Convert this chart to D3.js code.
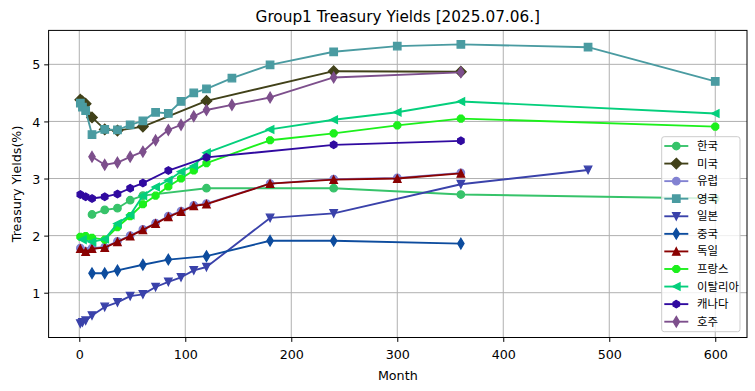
<!DOCTYPE html>
<html><head><meta charset="utf-8">
<script src="https://cdn.jsdelivr.net/npm/d3@7"></script>
<style>
body{margin:0;background:#fff}
svg{display:block}
text{font-family:"DejaVu Sans","Noto Sans CJK KR",sans-serif;fill:#000}
</style>
</head><body>
<svg id="chart" width="755" height="391"></svg>
<script>
// ---------- data ----------
const chartTitle = "Group1 Treasury Yields [2025.07.06.]";
const xLabel = "Month";
const yLabel = "Treasury Yields(%)";
const countries = ["한국","미국","유럽","영국","일본","중국","독일","프랑스","이탈리아","캐나다","호주"];

const monthsKR = [12,24,36,48,60,120,240,360,600];
const yieldsKR = [2.37,2.45,2.48,2.62,2.70,2.83,2.83,2.72,2.65];

const monthsUS = [1,3,6,12,24,36,60,120,240,360];
const yieldsUS = [4.38,4.35,4.31,4.07,3.86,3.84,3.91,4.36,4.88,4.87];

const monthsEU = [1,6,12,24,36,48,60,72,84,96,108,120,180,240,300,360];
const yieldsEU = [1.78,1.73,1.78,1.80,1.90,2.00,2.11,2.22,2.34,2.43,2.53,2.56,2.91,2.99,3.01,3.10];

const monthsUK = [1,3,6,12,24,36,48,60,72,84,96,108,120,144,180,240,300,360,480,600];
const yieldsUK = [4.32,4.25,4.19,3.77,3.86,3.85,3.94,4.01,4.16,4.14,4.35,4.50,4.57,4.76,4.99,5.22,5.32,5.35,5.30,4.70];

const monthsJP = [1,3,6,12,24,36,48,60,72,84,96,108,120,180,240,360,480];
const yieldsJP = [0.46,0.48,0.51,0.60,0.75,0.83,0.94,0.97,1.10,1.19,1.27,1.39,1.45,2.31,2.39,2.90,3.15];

const monthsCN = [12,24,36,60,84,120,180,240,360];
const yieldsCN = [1.34,1.34,1.39,1.49,1.58,1.64,1.91,1.91,1.86];

const monthsDE = [1,6,12,24,36,48,60,72,84,96,108,120,180,240,300,360];
const yieldsDE = [1.77,1.72,1.77,1.79,1.89,1.99,2.10,2.21,2.33,2.42,2.52,2.55,2.91,2.98,3.00,3.09];

const monthsFR = [1,6,12,24,36,48,60,72,84,96,108,120,180,240,300,360,600];
const yieldsFR = [1.98,1.99,1.96,1.93,2.15,2.34,2.55,2.70,2.86,3.00,3.14,3.27,3.67,3.79,3.93,4.05,3.91];

const monthsIT = [3,12,24,36,48,60,72,84,96,108,120,180,240,300,360,600];
const yieldsIT = [1.93,1.89,1.94,2.21,2.36,2.70,2.85,2.97,3.12,3.22,3.45,3.86,4.03,4.16,4.35,4.14];

const monthsCA = [1,6,12,24,36,48,60,84,120,240,360];
const yieldsCA = [2.72,2.68,2.65,2.68,2.73,2.83,2.92,3.14,3.37,3.59,3.66];

const monthsAU = [12,24,36,48,60,72,84,96,108,120,144,180,240,360];
const yieldsAU = [3.38,3.24,3.28,3.38,3.47,3.67,3.85,3.94,4.09,4.20,4.29,4.42,4.77,4.86];

const xTicks = [0,100,200,300,400,500,600];
const yTicks = [1,2,3,4,5];

// ---------- styles ----------
const colors = ["#37c36a","#414119","#8282d2","#4a9ba1","#3a42aa","#0d4c9e","#8a0202","#1cf01c","#04cf7c","#300aa0","#7d4f8c"];
const markers = ["o","D","o","s","v","d","^","8","<","h","d"];
const monthsList = [monthsKR,monthsUS,monthsEU,monthsUK,monthsJP,monthsCN,monthsDE,monthsFR,monthsIT,monthsCA,monthsAU];
const yieldsList = [yieldsKR,yieldsUS,yieldsEU,yieldsUK,yieldsJP,yieldsCN,yieldsDE,yieldsFR,yieldsIT,yieldsCA,yieldsAU];

const series = countries.map((name,i)=>({
  name, color: colors[i], marker: markers[i],
  points: monthsList[i].map((m,j)=>({m, v: yieldsList[i][j]}))
}));

// ---------- layout ----------
const L = 48.6, R = 747, T = 30.4, B = 337.5;
const MS = 7.5;       // marker size px
const LW = 1.875;     // line width px
const MEW = 1.25;     // marker edge width

const allM = monthsList.flat(), allV = yieldsList.flat();
const [mMin,mMax] = d3.extent(allM), [vMin,vMax] = d3.extent(allV);
const mPad = (mMax-mMin)*0.05, vPad = (vMax-vMin)*0.05;

const x = d3.scaleLinear().domain([mMin-mPad, mMax+mPad]).range([L,R]);
const y = d3.scaleLinear().domain([vMin-vPad, vMax+vPad]).range([B,T]);

function markerPath(type, s){
  const h = s/2, d = s*Math.SQRT1_2;
  const poly = (n, r, a0) => {
    let p = "";
    for(let k=0;k<n;k++){
      const a = (a0 + k*360/n)*Math.PI/180;
      p += (k?"L":"M") + (r*Math.cos(a)).toFixed(3) + "," + (-r*Math.sin(a)).toFixed(3);
    }
    return p+"Z";
  };
  switch(type){
    case "o": return `M${h},0A${h},${h} 0 1,1 ${-h},0A${h},${h} 0 1,1 ${h},0Z`;
    case "s": return `M${-h},${-h}H${h}V${h}H${-h}Z`;
    case "D": return `M0,${-d}L${d},0L0,${d}L${-d},0Z`;
    case "d": return `M0,${-d}L${0.6*d},0L0,${d}L${-0.6*d},0Z`;
    case "^": return `M0,${-h}L${h},${h}L${-h},${h}Z`;
    case "v": return `M0,${h}L${h},${-h}L${-h},${-h}Z`;
    case "<": return `M${-h},0L${h},${-h}L${h},${h}Z`;
    case "h": return poly(6, h, 90);
    case "8": return poly(8, h, 22.5);
  }
}

const svg = d3.select("#chart");
svg.append("rect").attr("width",755).attr("height",391).attr("fill","#fff");

// grid
const grid = svg.append("g");
grid.selectAll("line.gx").data(xTicks).join("line")
  .attr("x1",d=>x(d)).attr("x2",d=>x(d)).attr("y1",T).attr("y2",B)
  .attr("stroke","#b0b0b0").attr("stroke-width",1);
grid.selectAll("line.gy").data(yTicks).join("line")
  .attr("x1",L).attr("x2",R).attr("y1",d=>y(d)).attr("y2",d=>y(d))
  .attr("stroke","#b0b0b0").attr("stroke-width",1);

// series
const line = d3.line().x(d=>x(d.m)).y(d=>y(d.v));
const plot = svg.append("g");
series.forEach(s=>{
  const g = plot.append("g");
  g.append("path").attr("d", line(s.points)).attr("fill","none")
    .attr("stroke", s.color).attr("stroke-width", LW).attr("stroke-linejoin","round");
  g.selectAll("path.mk").data(s.points).join("path").attr("class","mk")
    .attr("d", markerPath(s.marker, MS))
    .attr("transform", d=>`translate(${x(d.m)},${y(d.v)})`)
    .attr("fill", s.color).attr("stroke", s.color).attr("stroke-width", MEW);
});

// axes
const xAxis = d3.axisBottom(x).tickValues(xTicks).tickSize(4.4).tickPadding(4).tickFormat(d3.format("d"));
const yAxis = d3.axisLeft(y).tickValues(yTicks).tickSize(4.4).tickPadding(4).tickFormat(d3.format("d"));
const gx = svg.append("g").attr("transform",`translate(0,${B})`).call(xAxis);
const gy = svg.append("g").attr("transform",`translate(${L},0)`).call(yAxis);
[gx,gy].forEach(g=>{
  g.select(".domain").remove();
  g.selectAll(".tick line").attr("stroke","#000").attr("stroke-width",1);
  g.selectAll(".tick text").attr("font-size","12.7px").attr("fill","#000")
    .style("font-family","'DejaVu Sans'");
});
gx.selectAll(".tick text").attr("dy",null).attr("y",null)
  .attr("transform",null).attr("dominant-baseline","auto").attr("y",21.8);
gy.selectAll(".tick text").attr("dy","0.36em");

// frame
svg.append("rect").attr("x",L).attr("y",T).attr("width",R-L).attr("height",B-T)
  .attr("fill","none").attr("stroke","#000").attr("stroke-width",1);

// labels
svg.append("text").attr("x",(L+R)/2).attr("y",22.3).attr("text-anchor","middle")
  .attr("font-size","15.3px").text(chartTitle);
svg.append("text").attr("x",(L+R)/2).attr("y",379.5).attr("text-anchor","middle")
  .attr("font-size","12.7px").text(xLabel);
svg.append("text").attr("transform",`translate(20.8,${(T+B)/2}) rotate(-90)`)
  .attr("text-anchor","middle").attr("font-size","12.7px").text(yLabel);

// legend
const lg = svg.append("g");
lg.append("rect").attr("x",661.7).attr("y",136.7).attr("width",78.3).attr("height",195)
  .attr("rx",2.5).attr("fill","#fff").attr("fill-opacity",0.8)
  .attr("stroke","#cccccc").attr("stroke-width",1);
series.forEach((s,i)=>{
  const yy = 146 + i*17.57;
  lg.append("line").attr("x1",664.3).attr("x2",688.3).attr("y1",yy).attr("y2",yy)
    .attr("stroke",s.color).attr("stroke-width",LW);
  lg.append("path").attr("d",markerPath(s.marker,MS)).attr("transform",`translate(676.3,${yy})`)
    .attr("fill",s.color).attr("stroke",s.color).attr("stroke-width",MEW);
  lg.append("text").attr("x",697).attr("y",yy).attr("dominant-baseline","central")
    .attr("font-size","11.4px").text(s.name);
});
</script>
</body></html>
